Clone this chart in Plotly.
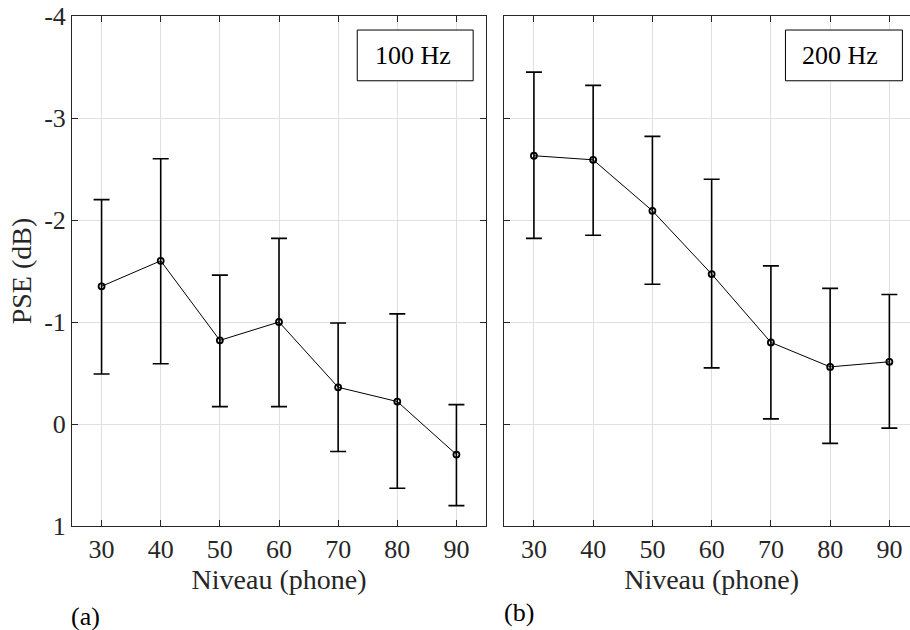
import plotly.graph_objects as go

levels = [30, 40, 50, 60, 70, 80, 90]

# 100 Hz panel: mean PSE and error-bar ends (dB)
pse_100 = [-1.35, -1.60, -0.82, -1.00, -0.36, -0.22, 0.30]
top_100 = [-2.20, -2.60, -1.46, -1.82, -0.99, -1.08, -0.19]
bot_100 = [-0.49, -0.59, -0.17, -0.17, 0.27, 0.63, 0.80]

# 200 Hz panel
pse_200 = [-2.63, -2.59, -2.09, -1.47, -0.80, -0.56, -0.61]
top_200 = [-3.45, -3.32, -2.82, -2.40, -1.55, -1.33, -1.27]
bot_200 = [-1.82, -1.85, -1.37, -0.55, -0.05, 0.19, 0.04]

y_ticks = [-4, -3, -2, -1, 0, 1]
y_ticktext = ["-4", "-3", "-2", "-1", "0", "1"]
x_ticks = [30, 40, 50, 60, 70, 80, 90]

FONT = "Liberation Serif, Times New Roman, serif"
FS = 26
FT = 28
AXC = "#262626"
GRID = "#e0e0e0"

# the right panel in the reference runs past the 910 px edge; draw it whole
# on a slightly wider figure and let the window crop it
W, H = 919, 630
L, R, T, B = 72, 0, 16, 104
PW = W - L - R

fig = go.Figure()

def add_series(x, m, top, bot, xa, ya):
    plus = [b - v for b, v in zip(bot, m)]
    minus = [v - t for v, t in zip(m, top)]
    fig.add_trace(go.Scatter(
        x=x, y=m, mode="lines+markers", xaxis=xa, yaxis=ya,
        line=dict(color="black", width=1),
        marker=dict(symbol="circle-open", size=6, color="black",
                    line=dict(color="black", width=1.8)),
        error_y=dict(type="data", symmetric=False, array=plus, arrayminus=minus,
                     color="black", thickness=1.6, width=8),
        showlegend=False))

add_series(levels, pse_100, top_100, bot_100, "x", "y")
add_series(levels, pse_200, top_200, bot_200, "x2", "y2")

xcommon = dict(tickvals=x_ticks, range=[25, 95], showgrid=True, gridcolor=GRID, gridwidth=1,
               showline=True, linecolor=AXC, linewidth=1, ticks="inside",
               ticklen=6, tickcolor=AXC, zeroline=False, automargin=False,
               mirror="allticks",
               tickfont=dict(family=FONT, size=FS, color="#262626"),
               title=dict(text="Niveau (phone)", font=dict(family=FONT, size=FT, color="#262626"),
                          standoff=4))
ycommon = dict(range=[1, -4], tickvals=y_ticks, ticktext=y_ticktext,
               showgrid=True, gridcolor=GRID, gridwidth=1, showline=True,
               linecolor=AXC, linewidth=1, ticks="inside", ticklen=6,
               tickcolor=AXC, zeroline=False, automargin=False, mirror="allticks",
               tickfont=dict(family=FONT, size=FS, color="#262626"))

fig.update_layout(
    width=W, height=H,
    margin=dict(l=L, r=R, t=T, b=B),
    paper_bgcolor="white", plot_bgcolor="white",
    font=dict(family=FONT, size=FS, color="#262626"),
    xaxis=dict(domain=[0, 414 / PW], **xcommon),
    xaxis2=dict(domain=[(504.3 - L) / PW, 1], anchor="y2", **xcommon),
    yaxis=dict(anchor="x",
               title=dict(text="PSE (dB)", font=dict(family=FONT, size=FT, color="#262626"),
                          standoff=4),
               **ycommon),
    yaxis2=dict(anchor="x2", showticklabels=False, **ycommon),
)

# label boxes
fig.add_shape(type="rect", xref="x domain", yref="y domain",
              x0=0.689, x1=0.969, y0=0.873, y1=0.9725,
              line=dict(color="black", width=1), fillcolor="white")
fig.add_shape(type="rect", xref="x2 domain", yref="y2 domain",
              x0=0.678, x1=0.960, y0=0.873, y1=0.9725,
              line=dict(color="black", width=1), fillcolor="white")
fig.add_annotation(text="100 Hz", xref="x domain", yref="y domain", x=0.726, y=0.923,
                   xanchor="left", yanchor="middle", showarrow=False,
                   font=dict(family=FONT, size=FS, color="black"))
fig.add_annotation(text="200 Hz", xref="x2 domain", yref="y2 domain", x=0.712, y=0.923,
                   xanchor="left", yanchor="middle", showarrow=False,
                   font=dict(family=FONT, size=FS, color="black"))

# panel letters
fig.add_annotation(text="(a)", xref="paper", yref="paper", x=(69 - L) / PW, y=-(616 - 526) / 510,
                   xanchor="left", yanchor="middle", showarrow=False,
                   font=dict(family=FONT, size=FS, color="black"))
fig.add_annotation(text="(b)", xref="paper", yref="paper", x=(502 - L) / PW, y=-(612 - 526) / 510,
                   xanchor="left", yanchor="middle", showarrow=False,
                   font=dict(family=FONT, size=FS, color="black"))

fig.write_html("out.html", config={"displayModeBar": False},
               post_script="document.body.style.margin='0';document.body.style.overflow='hidden';")
